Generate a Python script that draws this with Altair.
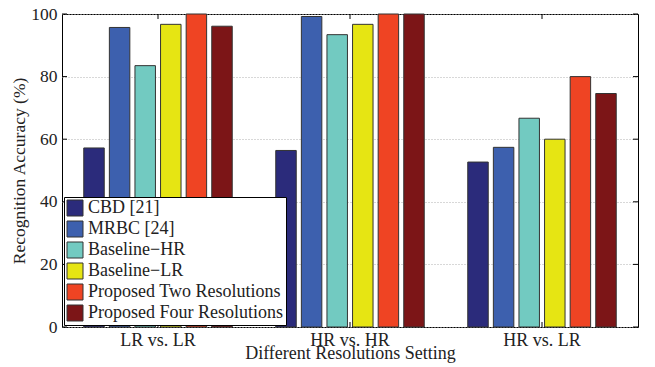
import altair as alt
import pandas as pd

groups = ["LR vs. LR", "HR vs. HR", "HR vs. LR"]
methods = ["CBD [21]", "MRBC [24]", "Baseline\u2212HR", "Baseline\u2212LR",
           "Proposed Two Resolutions", "Proposed Four Resolutions"]
colors = ["#2b2b7b", "#3d60ae", "#72cac1", "#e6e513", "#ef4423", "#7c1517"]

cbd = [57.2, 56.4, 52.7]
mrbc = [95.7, 99.2, 57.4]
base_hr = [83.5, 93.4, 66.7]
base_lr = [96.7, 96.7, 60.0]
two_res = [100.0, 100.0, 80.0]
four_res = [96.1, 100.0, 74.6]

y_ticks = [0, 20, 40, 60, 80, 100]

series = [cbd, mrbc, base_hr, base_lr, two_res, four_res]
rows = []
for m, vals in zip(methods, series):
    for g, v in zip(groups, vals):
        rows.append({"Setting": g, "Method": m, "Accuracy": v})
df = pd.DataFrame(rows)
ytick_df = pd.DataFrame({"Accuracy": y_ticks})
xtick_df = pd.DataFrame({"Setting": groups})

FONT = "Liberation Serif, Times New Roman, serif"
W, H = 576, 313

x_enc = alt.X("Setting:N", sort=groups,
              scale=alt.Scale(paddingInner=0.2, paddingOuter=0.1),
              axis=alt.Axis(title="Different Resolutions Setting", labelAngle=0,
                            ticks=False, tickSize=0, domain=False,
                            labelBaseline="alphabetic", labelPadding=18,
                            titleBaseline="alphabetic", titleY=31))
y_enc = alt.Y("Accuracy:Q", scale=alt.Scale(domain=[0, 100], nice=False),
              axis=alt.Axis(title="Recognition Accuracy (%)", values=y_ticks,
                            ticks=False, tickSize=0, domain=False,
                            labelPadding=5, titlePadding=2,
                            gridDash=[1, 2], gridColor="#b0b0b0"))

bars = alt.Chart(df).mark_bar(stroke="#333333", strokeWidth=1).encode(
    x=x_enc,
    xOffset=alt.XOffset("Method:N", sort=methods,
                        scale=alt.Scale(paddingInner=0.2, paddingOuter=0.1)),
    y=y_enc,
    color=alt.Color("Method:N", sort=methods,
                    scale=alt.Scale(domain=methods, range=colors),
                    title=None,
                    legend=alt.Legend(orient="none", legendX=2, legendY=183,
                                      symbolType="square", symbolSize=256,
                                      symbolStrokeColor="#333333", symbolStrokeWidth=1,
                                      labelFont=FONT, labelFontSize=18, labelColor="#222222",
                                      labelLimit=400, rowPadding=1, padding=2,
                                      strokeColor="#000000", fillColor="#ffffff",
                                      symbolOpacity=1)),
)

left_ticks = alt.Chart(ytick_df).mark_rule(color="#000000", strokeWidth=1).encode(
    y="Accuracy:Q", x=alt.value(0), x2=alt.value(5))
right_ticks = alt.Chart(ytick_df).mark_rule(color="#000000", strokeWidth=1).encode(
    y="Accuracy:Q", x=alt.value(W - 5), x2=alt.value(W))
top_ticks = alt.Chart(xtick_df).mark_rule(color="#000000", strokeWidth=1).encode(
    x=alt.X("Setting:N", sort=groups, bandPosition=0.5), y=alt.value(0), y2=alt.value(5))
bottom_ticks = alt.Chart(xtick_df).mark_rule(color="#000000", strokeWidth=1).encode(
    x=alt.X("Setting:N", sort=groups, bandPosition=0.5), y=alt.value(H - 5), y2=alt.value(H))

chart = alt.layer(bars, left_ticks, right_ticks, top_ticks, bottom_ticks).properties(
    width=W, height=H,
    autosize=alt.AutoSizeParams(type="none"),
    padding={"left": 54, "top": 6, "right": 9, "bottom": 36},
).configure_view(stroke="#000000", strokeWidth=1).configure_axis(
    labelFont=FONT, titleFont=FONT, labelFontSize=17.5, titleFontSize=17.5,
    labelColor="#222222", titleColor="#222222", titleFontWeight="normal",
    gridWidth=1,
).configure_axisX(labelFontSize=18, titleFontSize=18)

chart.save("out.html", embed_options={"renderer": "svg", "actions": False})
